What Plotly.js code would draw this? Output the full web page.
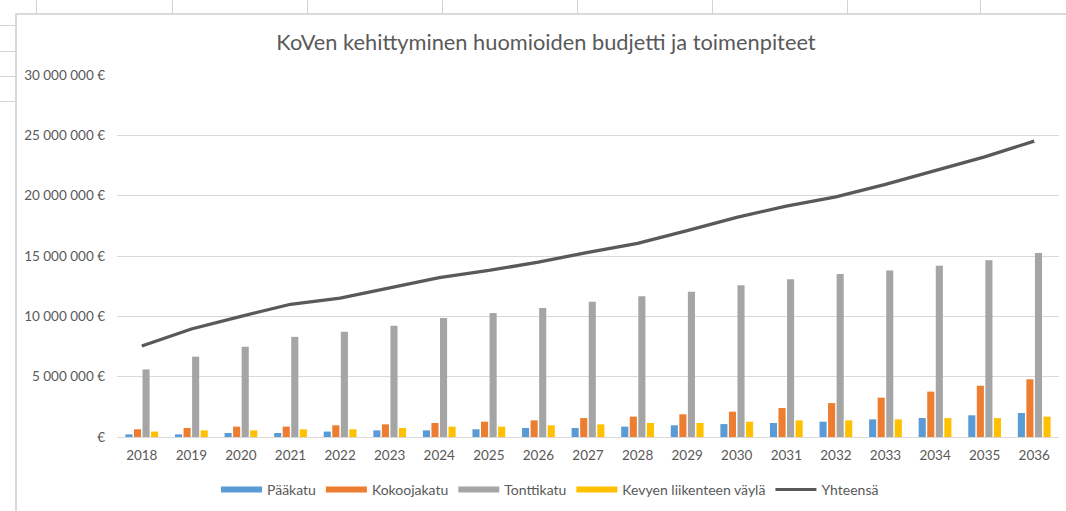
<!DOCTYPE html>
<html>
<head>
<meta charset="utf-8">
<script src="https://cdn.plot.ly/plotly-3.0.1.min.js"></script>
<style>
  html, body { margin: 0; padding: 0; background: #ffffff; }
  #wrap { position: relative; width: 1066px; height: 511px; overflow: hidden; background: #ffffff; }
  .vline { position: absolute; top: 0; width: 1px; height: 14px; background: #d4d4d4; }
  .hline { position: absolute; left: 0; height: 1px; width: 15px; background: #d4d4d4; }
  #frame { position: absolute; left: 15px; top: 13px; right: -2px; bottom: -2px;
           border-left: 2px solid #d9d9d9; border-top: 2px solid #d9d9d9; background: #ffffff; }
  #chart { position: absolute; left: 0; top: 0; width: 1066px; height: 511px; }
</style>
</head>
<body>
<div id="wrap">
  <div class="vline" style="left:36px"></div>
  <div class="vline" style="left:172px"></div>
  <div class="vline" style="left:307px"></div>
  <div class="vline" style="left:442px"></div>
  <div class="vline" style="left:577px"></div>
  <div class="vline" style="left:712px"></div>
  <div class="vline" style="left:847px"></div>
  <div class="vline" style="left:980px"></div>
  <div class="hline" style="top:25px"></div>
  <div class="hline" style="top:51px"></div>
  <div class="hline" style="top:76px"></div>
  <div class="hline" style="top:101px"></div>
  <div id="frame"></div>
  <div id="chart"></div>
</div>
<script>
// ---- Data (euros) ----
var years = ['2018','2019','2020','2021','2022','2023','2024','2025','2026','2027',
             '2028','2029','2030','2031','2032','2033','2034','2035','2036'];

var paakatu = [220000, 220000, 330000, 330000, 450000, 550000, 550000, 640000, 750000, 750000,
               860000, 970000, 1070000, 1160000, 1270000, 1460000, 1570000, 1800000, 1990000];

var kokoojakatu = [640000, 750000, 860000, 860000, 970000, 1050000, 1160000, 1270000, 1380000, 1570000,
                   1690000, 1880000, 2100000, 2400000, 2810000, 3260000, 3760000, 4250000, 4780000];

var tonttikatu = [5600000, 6660000, 7480000, 8300000, 8720000, 9220000, 9860000, 10270000, 10690000, 11210000,
                  11660000, 12040000, 12570000, 13070000, 13500000, 13800000, 14200000, 14640000, 15240000];

var kevyenLiikenteenVayla = [450000, 550000, 550000, 640000, 640000, 750000, 860000, 860000, 970000, 1050000,
                             1160000, 1160000, 1270000, 1380000, 1380000, 1460000, 1570000, 1570000, 1690000];

var yhteensa = [7540000, 8950000, 10000000, 11000000, 11500000, 12370000, 13200000, 13800000, 14500000, 15300000,
                16050000, 17100000, 18200000, 19140000, 19900000, 20940000, 22060000, 23220000, 24520000];

var yTickVals = [0, 5000000, 10000000, 15000000, 20000000, 25000000, 30000000];
var yTickText = ['€', '5 000 000 €', '10 000 000 €', '15 000 000 €', '20 000 000 €', '25 000 000 €', '30 000 000 €'];

var seriesNames = ['Pääkatu', 'Kokoojakatu', 'Tonttikatu', 'Kevyen liikenteen väylä', 'Yhteensä'];
var chartTitle = 'KoVen kehittyminen huomioiden budjetti ja toimenpiteet';

// ---- Styles ----
var colors = ['#5B9BD5', '#ED7D31', '#A5A5A5', '#FFC000', '#595959'];
var textColor = '#595959';
var fontFamily = 'Lato, "Open Sans", sans-serif';

var barSeries = [paakatu, kokoojakatu, tonttikatu, kevyenLiikenteenVayla];
var traces = [];

barSeries.forEach(function (vals, i) {
  traces.push({
    type: 'bar', x: years, y: vals, name: seriesNames[i],
    marker: { color: colors[i], line: { width: 0 } },
    legendgroup: 'g' + i, showlegend: false, hoverinfo: 'x+y+name'
  });
});

traces.push({
  type: 'scatter', mode: 'lines', x: years, y: yhteensa, name: seriesNames[4],
  line: { color: colors[4], width: 3.3 },
  legendgroup: 'g4', showlegend: false
});

// legend entries (swatches in the Excel style)
for (var i = 0; i < 5; i++) {
  traces.push({
    type: 'scatter', mode: 'lines', x: [null], y: [null], name: seriesNames[i],
    line: { color: colors[i], width: i < 4 ? 6 : 3 },
    legendgroup: 'g' + i, showlegend: true, hoverinfo: 'skip'
  });
}

var layout = {
  width: 1066, height: 511,
  paper_bgcolor: 'rgba(0,0,0,0)',
  plot_bgcolor: 'rgba(0,0,0,0)',
  margin: { l: 117, r: 7, t: 75, b: 74, pad: 0 },
  font: { family: fontFamily, color: textColor, size: 13.5 },
  title: {
    text: chartTitle,
    xref: 'container', x: 546 / 1066, xanchor: 'center',
    yref: 'container', y: 1 - 42 / 511, yanchor: 'middle',
    font: { family: fontFamily, size: 21.8, color: textColor }
  },
  barmode: 'group',
  bargap: 0.31,
  bargroupgap: 0.17,
  xaxis: {
    type: 'category',
    showgrid: false,
    showline: true, linecolor: '#D9D9D9', linewidth: 1,
    ticks: '',
    ticklabelstandoff: 6,
    tickfont: { family: fontFamily, size: 13.5, color: textColor },
    fixedrange: true
  },
  yaxis: {
    range: [0, 30000000],
    tickmode: 'array', tickvals: yTickVals, ticktext: yTickText,
    showgrid: true, gridcolor: '#D9D9D9', gridwidth: 1,
    zeroline: false, showline: false, ticks: '',
    ticklabelstandoff: 11,
    tickfont: { family: fontFamily, size: 13.5, color: textColor },
    fixedrange: true
  },
  legend: {
    orientation: 'h',
    xref: 'container', x: 550 / 1066, xanchor: 'center',
    yref: 'container', y: 1 - 490 / 511, yanchor: 'middle',
    traceorder: 'normal',
    font: { family: fontFamily, size: 14, color: textColor },
    bgcolor: 'rgba(0,0,0,0)',
    itemwidth: 41
  },
  showlegend: true
};

Plotly.newPlot('chart', traces, layout, { displayModeBar: false, staticPlot: true });
</script>
</body>
</html>
